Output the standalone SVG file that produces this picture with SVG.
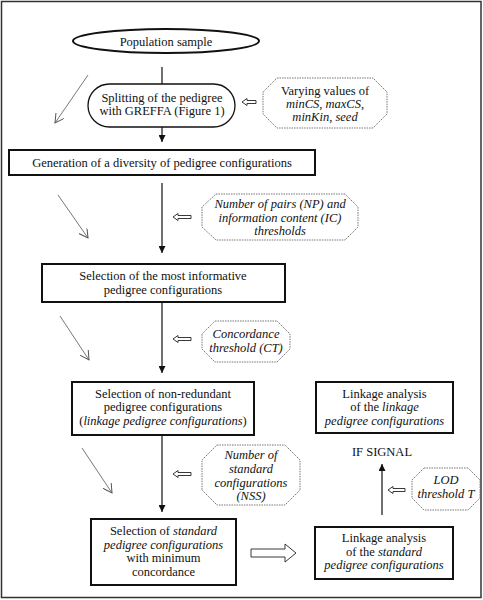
<svg xmlns="http://www.w3.org/2000/svg" width="483" height="600" viewBox="0 0 483 600">
<defs>
<style>
text{font-family:"Liberation Serif","Times New Roman",serif;font-size:12.5px;fill:#111;text-anchor:middle}
.i{font-style:italic}
.box{fill:#fff;stroke:#111;stroke-width:2}
.oct{fill:#fff;stroke:#666;stroke-width:0.9;stroke-dasharray:1.5 1}
.hol{fill:#fff;stroke:#222;stroke-width:0.9}
.v{stroke:#111;stroke-width:1.2;fill:none}
.d{stroke:#555;stroke-width:0.8;fill:none}
</style>
<marker id="fa" viewBox="0 0 8 8" refX="8" refY="4" markerWidth="7" markerHeight="7" markerUnits="userSpaceOnUse" orient="auto"><path d="M0,0 L8,4 L0,8 z" fill="#111"/></marker>
<marker id="oa" viewBox="0 0 10 10" refX="9" refY="5" markerWidth="10" markerHeight="10" markerUnits="userSpaceOnUse" orient="auto"><path d="M0,0 L9,5 L0,10" fill="none" stroke="#555" stroke-width="1"/></marker>
</defs>
<rect x="1.5" y="1.5" width="479.5" height="596" fill="#fff" stroke="#333" stroke-width="1.5"/>

<g id="connectors">
<line class="v" x1="162" y1="67" x2="162" y2="84"/>
<line class="v" x1="162" y1="127" x2="162" y2="142" marker-end="url(#fa)"/>
<line class="v" x1="162" y1="183" x2="162" y2="253" marker-end="url(#fa)"/>
<line class="v" x1="162" y1="302" x2="162" y2="373" marker-end="url(#fa)"/>
<line class="v" x1="162" y1="435" x2="162" y2="512" marker-end="url(#fa)"/>
<line class="v" x1="382" y1="515" x2="382" y2="464" marker-end="url(#fa)"/>
<line class="d" x1="88" y1="75" x2="55" y2="123" marker-end="url(#oa)"/>
<line class="d" x1="58" y1="195" x2="88" y2="238" marker-end="url(#oa)"/>
<line class="d" x1="60" y1="316" x2="89" y2="360" marker-end="url(#oa)"/>
<line class="d" x1="82" y1="448" x2="112" y2="493" marker-end="url(#oa)"/>
<polygon class="hol" points="242,102 247,98.5 247,100.5 256,100.5 256,103.5 247,103.5 247,105.5"/>
<polygon class="hol" points="173,217 178,213.5 178,215.5 191,215.5 191,218.5 178,218.5 178,220.5"/>
<polygon class="hol" points="173,339 178,335.5 178,337.5 191,337.5 191,340.5 178,340.5 178,342.5"/>
<polygon class="hol" points="173,474 178,470.5 178,472.5 191,472.5 191,475.5 178,475.5 178,477.5"/>
<polygon class="hol" points="388,490 393,486.5 393,488.5 405,488.5 405,491.5 393,491.5 393,493.5"/>
<polygon class="hol" points="251,549 285,549 285,544 296,553 285,562 285,557 251,557" stroke-width="1.2"/>
</g>

<g id="population">
<ellipse cx="166" cy="41" rx="93" ry="12" fill="#fff" stroke="#111" stroke-width="2"/>
<text x="166" y="45.5">Population sample</text>
</g>

<g id="splitting">
<rect x="88" y="84" width="147" height="43" rx="21.5" fill="#fff" stroke="#111" stroke-width="1.3"/>
<text x="162" y="101.5">Splitting of the pedigree</text>
<text x="162" y="115">with GREFFA (Figure 1)</text>
</g>

<g id="varying">
<path class="oct" d="M277,78 H373 L387,92 V114 L373,128 H277 L263,114 V92 Z"/>
<text x="325" y="95">Varying values of</text>
<text x="325" y="108"><tspan class="i">minCS</tspan>, <tspan class="i">maxCS</tspan>,</text>
<text x="325" y="121"><tspan class="i">minKin</tspan>, <tspan class="i">seed</tspan></text>
</g>

<g id="generation">
<rect class="box" x="9" y="150" width="306" height="25"/>
<text x="162" y="167">Generation of a diversity of pedigree configurations</text>
</g>

<g id="np-ic">
<path class="oct" d="M216,194 H345 L358,207 V227 L345,240 H216 L202,227 V207 Z"/>
<text class="i" x="280" y="208">Number of pairs (NP) and</text>
<text class="i" x="280" y="222">information content (IC)</text>
<text class="i" x="280" y="235">thresholds</text>
</g>

<g id="informative">
<rect class="box" x="42" y="264" width="243" height="38"/>
<text x="163" y="280">Selection of the most informative</text>
<text x="163" y="293.5">pedigree configurations</text>
</g>

<g id="ct">
<path class="oct" d="M215,321 H277 L290,334 V349 L277,362 H215 L202,349 V334 Z"/>
<text class="i" x="246" y="338">Concordance</text>
<text class="i" x="246" y="352">threshold (CT)</text>
</g>

<g id="nonredundant">
<rect class="box" x="72" y="382" width="182" height="53"/>
<text x="163" y="397.5">Selection of non-redundant</text>
<text x="163" y="411">pedigree configurations</text>
<text x="163" y="424.5">(<tspan class="i">linkage pedigree configurations</tspan>)</text>
</g>

<g id="linkage-linkage">
<rect class="box" x="316" y="382" width="137" height="51"/>
<text x="384.5" y="397.5">Linkage analysis</text>
<text x="384.5" y="411">of the <tspan class="i">linkage</tspan></text>
<text class="i" x="384.5" y="424.5">pedigree configurations</text>
</g>

<g id="ifsignal">
<text x="382" y="456">IF SIGNAL</text>
</g>

<g id="nss">
<path class="oct" d="M217,445 H285 L300,460 V490 L285,505 H217 L202,490 V460 Z"/>
<text class="i" x="251" y="458.5">Number of</text>
<text class="i" x="251" y="473">standard</text>
<text class="i" x="251" y="486.5">configurations</text>
<text class="i" x="251" y="500">(NSS)</text>
</g>

<g id="lod">
<path class="oct" d="M424,468 H468 L480,480 V498 L468,510 H424 L412,498 V480 Z"/>
<text class="i" x="446" y="483.5">LOD</text>
<text class="i" x="446" y="497.5">threshold T</text>
</g>

<g id="standard-selection">
<rect class="box" x="91" y="519" width="145" height="66"/>
<text x="163.5" y="535">Selection of <tspan class="i">standard</tspan></text>
<text class="i" x="163.5" y="548.5">pedigree configurations</text>
<text x="163.5" y="562">with minimum</text>
<text x="163.5" y="575.5">concordance</text>
</g>

<g id="linkage-standard">
<rect class="box" x="315" y="527" width="138" height="52"/>
<text x="384" y="542">Linkage analysis</text>
<text x="384" y="555.5">of the <tspan class="i">standard</tspan></text>
<text class="i" x="384" y="569">pedigree configurations</text>
</g>
</svg>
